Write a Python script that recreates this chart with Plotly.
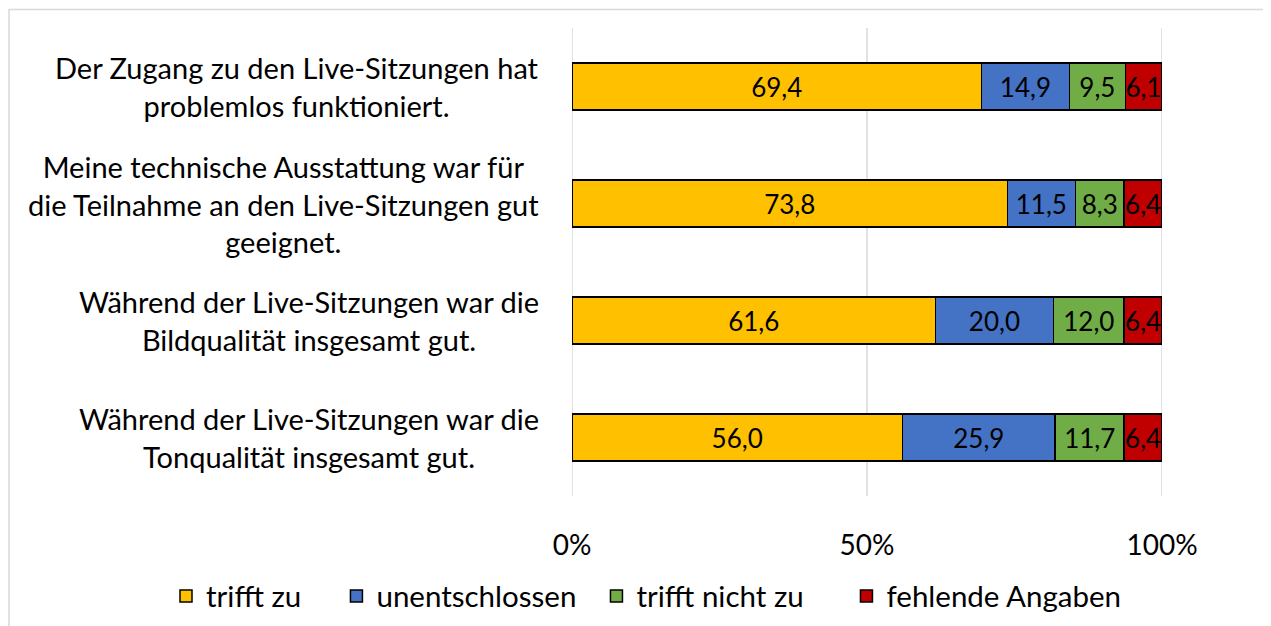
import plotly.graph_objects as go

categories = [
    "Der Zugang zu den Live-Sitzungen hat<br>problemlos funktioniert.",
    "Meine technische Ausstattung war für<br>die Teilnahme an den Live-Sitzungen gut<br>geeignet.",
    "Während der Live-Sitzungen war die<br>Bildqualität insgesamt gut.",
    "Während der Live-Sitzungen war die<br>Tonqualität insgesamt gut.",
]
series_names = ["trifft zu", "unentschlossen", "trifft nicht zu", "fehlende Angaben"]
trifft_zu = [69.4, 73.8, 61.6, 56.0]
unentschlossen = [14.9, 11.5, 20.0, 25.9]
trifft_nicht_zu = [9.5, 8.3, 12.0, 11.7]
fehlende_angaben = [6.1, 6.4, 6.4, 6.4]
tick_vals = [0, 50, 100]
tick_text = ["0%", "50%", "100%"]

colors = ["#FFC000", "#4472C4", "#70AD47", "#C00000"]
legend_pad = [4, 2, 5, 0]  # trailing spacing after each legend entry
FONT = "Lato"

OFF = 8  # default page body margin
W, H = 1271 - OFF, 626 - OFF
# positions in page pixels
PL, PR, PT, PB = 572, 1162, 27.5, 496.5
L = PL - OFF
T = PT - OFF
R = W - (PR - OFF)
B = H - (PB - OFF)
pw = PR - PL
ph = PB - PT

def px2x(px):
    return (px - PL) / pw

def py2y(py):
    return (PB - py) / ph

fig = go.Figure()

for v in tick_vals:
    fig.add_shape(type="line", xref="x", yref="paper", x0=v, x1=v, y0=0, y1=1,
                  line=dict(color="#D9D9D9", width=1.5), layer="below")

for name, vals, col, pad in zip(series_names,
                                [trifft_zu, unentschlossen, trifft_nicht_zu, fehlende_angaben],
                                colors, legend_pad):
    fig.add_trace(go.Bar(
        y=categories, x=vals, name=name + "\u00a0" * pad, orientation="h",
        marker=dict(color=col, line=dict(color="black", width=1.5)),
        text=[f"{v:.1f}".replace(".", ",") for v in vals],
        textposition="inside", insidetextanchor="middle", textangle=0,
        textfont=dict(family=FONT, size=26, color="black"),
        hoverinfo="skip", cliponaxis=True,
    ))

for c in categories:
    fig.add_annotation(
        x=0, xref="paper", y=c, yref="y", xanchor="right", yanchor="middle",
        xshift=-31, align="center", showarrow=False, text=c,
        font=dict(family=FONT, size=29, color="black"),
    )

fig.add_shape(type="rect", xref="paper", yref="paper",
              x0=px2x(9), x1=px2x(1266), y0=py2y(640), y1=py2y(9),
              line=dict(color="#D9D9D9", width=1.5), fillcolor="rgba(0,0,0,0)", layer="below")

fig.update_layout(
    width=W, height=H,
    margin=dict(l=L, r=R, t=T, b=B, autoexpand=False),
    barmode="stack", bargap=0.6,
    plot_bgcolor="white", paper_bgcolor="white",
    font=dict(family=FONT, size=28, color="black"),
    uniformtext=dict(mode="show", minsize=26),
    showlegend=True,
    legend=dict(orientation="h", x=px2x(166), xanchor="left", y=py2y(597), yanchor="middle",
                font=dict(family=FONT, size=29.5, color="black"), traceorder="normal",
                itemwidth=30),
    xaxis=dict(range=[0, 100], tickvals=tick_vals, ticktext=tick_text,
               showgrid=False, zeroline=False,
               showline=False, ticks="", ticklabelstandoff=30,
               tickfont=dict(family=FONT, size=28, color="black"), fixedrange=True),
    yaxis=dict(autorange="reversed", showticklabels=False, showgrid=False,
               zeroline=False, showline=False, fixedrange=True),
)

fig.write_html("out.html")
